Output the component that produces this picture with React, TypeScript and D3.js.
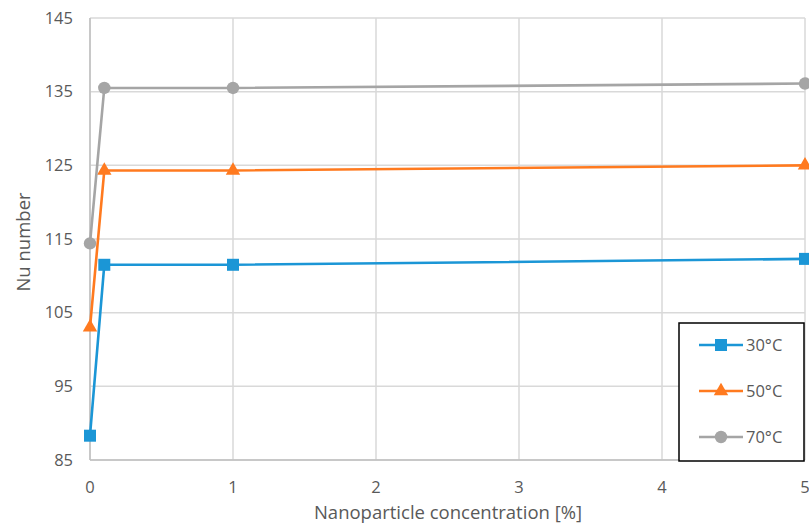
import React from "react";
import * as d3 from "d3";

const xValues = [0, 0.1, 1, 5];
const series30 = [88.3, 111.5, 111.5, 112.3];
const series50 = [103.0, 124.3, 124.3, 125.0];
const series70 = [114.4, 135.5, 135.5, 136.1];
const seriesNames = ["30°C", "50°C", "70°C"];
const yTicks = [85, 95, 105, 115, 125, 135, 145];
const xTicks = [0, 1, 2, 3, 4, 5];

const W = 809, H = 524;
const L = 90, R = 805, T = 18, B = 460;
const colors = ["#1b96d6", "#ff7a1f", "#a5a5a5"];
const font = "'Open Sans', 'Noto Sans', sans-serif";

function Marker({ kind, x, y, color }: { kind: number; x: number; y: number; color: string }) {
  if (kind === 0) return <rect x={x - 6} y={y - 6} width={12} height={12} fill={color} />;
  if (kind === 1) {
    const p = d3.symbol().type(d3.symbolTriangle).size(90)();
    return <path d={p || ""} transform={`translate(${x},${y})`} fill={color} />;
  }
  return <circle cx={x} cy={y} r={6.2} fill={color} />;
}

export default function App() {
  const x = d3.scaleLinear().domain([0, 5]).range([L, R]);
  const y = d3.scaleLinear().domain([85, 145]).range([B, T]);
  const data = [series30, series50, series70];
  const line = d3.line<number>().x((_, i) => x(xValues[i])).y((d) => y(d));
  const legendY = [345, 391, 437];
  return (
    <svg width={W} height={H} style={{ position: "absolute", left: 0, top: 0 }}>
      <rect width={W} height={H} fill="#fff" />
      {yTicks.map((t) => (
        <line key={"gy" + t} x1={L} x2={R} y1={y(t)} y2={y(t)} stroke="#d9d9d9" strokeWidth={1.5} />
      ))}
      {xTicks.map((t) => (
        <line key={"gx" + t} x1={x(t)} x2={x(t)} y1={T} y2={B} stroke="#d9d9d9" strokeWidth={1.5} />
      ))}
      <line x1={L} x2={L} y1={T} y2={B} stroke="#bfbfbf" strokeWidth={1.5} />
      <line x1={L} x2={R} y1={B} y2={B} stroke="#bfbfbf" strokeWidth={1.5} />
      {yTicks.map((t) => (
        <text key={"ly" + t} x={73} y={y(t)} dy="0.35em" textAnchor="end" fontSize={16.5} fill="#595959" fontFamily={font}>{t}</text>
      ))}
      {xTicks.map((t) => (
        <text key={"lx" + t} x={x(t)} y={493} textAnchor="middle" fontSize={16.5} fill="#595959" fontFamily={font}>{t}</text>
      ))}
      <text x={448} y={519} textAnchor="middle" fontSize={18.5} fill="#595959" fontFamily={font}>Nanoparticle concentration [%]</text>
      <text transform={`translate(30,${(T + B) / 2 + 3}) rotate(-90)`} textAnchor="middle" fontSize={18.5} fill="#595959" fontFamily={font}>Nu number</text>
      {data.map((s, k) => (
        <g key={"s" + k}>
          <path d={line(s) || ""} fill="none" stroke={colors[k]} strokeWidth={2.6} />
          {s.map((v, i) => (
            <Marker key={i} kind={k} x={x(xValues[i])} y={y(v)} color={colors[k]} />
          ))}
        </g>
      ))}
      <rect x={679} y={323} width={125} height={138} fill="#fff" stroke="#000" strokeWidth={1.5} />
      {seriesNames.map((n, k) => (
        <g key={"lg" + k}>
          <line x1={699} x2={743} y1={legendY[k]} y2={legendY[k]} stroke={colors[k]} strokeWidth={2.6} />
          <Marker kind={k} x={721} y={legendY[k]} color={colors[k]} />
          <text x={746} y={legendY[k]} dy="0.35em" fontSize={16.5} fill="#595959" fontFamily={font}>{n}</text>
        </g>
      ))}
    </svg>
  );
}
